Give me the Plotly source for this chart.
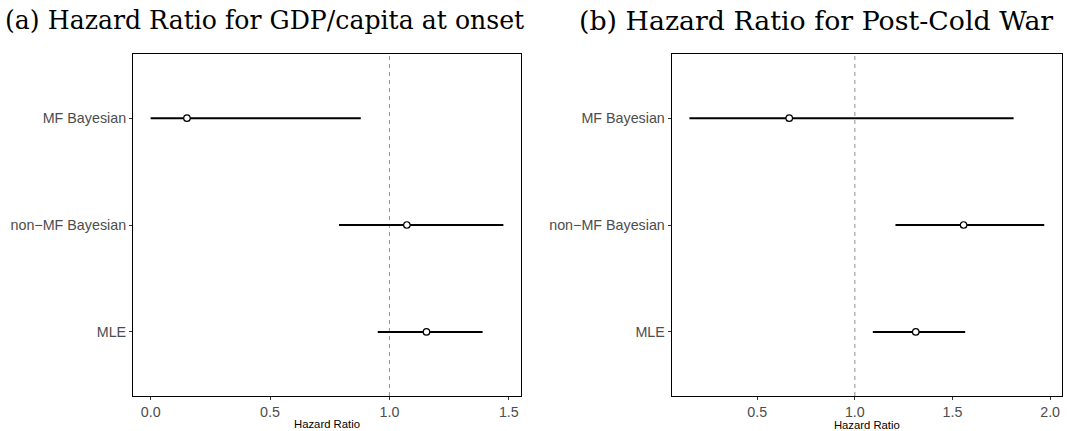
import plotly.graph_objects as go
from plotly.subplots import make_subplots

models = ["MF Bayesian", "non\u2212MF Bayesian", "MLE"]

# Panel (a): GDP/capita at onset
gdp_est = [0.152, 1.073, 1.155]
gdp_lo = [0.0, 0.789, 0.951]
gdp_hi = [0.880, 1.477, 1.390]

# Panel (b): Post-Cold War
pcw_est = [0.664, 1.557, 1.312]
pcw_lo = [0.153, 1.208, 1.092]
pcw_hi = [1.813, 1.970, 1.565]

titles = ["(a) Hazard Ratio for GDP/capita at onset", "(b) Hazard Ratio for Post-Cold War"]
x_ticks_a = [0.0, 0.5, 1.0, 1.5]
x_ticks_b = [0.5, 1.0, 1.5, 2.0]

W, H = 1076, 431
ML, MR, MT, MB = 133, 14, 54, 35
PW = W - ML - MR

fig = make_subplots(rows=1, cols=2)

def add_panel(col, est, lo, hi):
    fig.add_trace(go.Scatter(
        x=est, y=models, mode="markers",
        marker=dict(symbol="circle", size=6.5, color="white",
                    line=dict(color="black", width=1.2)),
        error_x=dict(type="data", symmetric=False,
                     array=[h - e for h, e in zip(hi, est)],
                     arrayminus=[e - l for e, l in zip(est, lo)],
                     width=0, thickness=2, color="black"),
        showlegend=False, hoverinfo="x+y"), row=1, col=col)
    fig.add_vline(x=1.0, line=dict(color="#9a9a9a", width=1.1, dash="4px,4px"),
                  row=1, col=col, layer="below")

add_panel(1, gdp_est, gdp_lo, gdp_hi)
add_panel(2, pcw_est, pcw_lo, pcw_hi)

def rng(lo, hi):
    a, b = min(lo), max(hi)
    pad = 0.05 * (b - a)
    return [a - pad, b + pad]

tick_font = dict(family="Liberation Sans, Arial", size=14.3, color="#4D4D4D")
axis_common = dict(showline=True, mirror=True, linecolor="black", linewidth=1,
                   showgrid=False, zeroline=False, ticks="outside", ticklen=3,
                   tickcolor="#333333", tickwidth=1, tickfont=tick_font,
                   automargin=False)

dom_a = [0, (521 - ML) / PW]
dom_b = [(671.7 - ML) / PW, 1.0]

fig.update_xaxes(**axis_common)
fig.update_yaxes(**axis_common)

xt_font = dict(family="Liberation Sans, Arial", size=11.3, color="black")
fig.update_xaxes(domain=dom_a, range=rng(gdp_lo, gdp_hi), tickvals=x_ticks_a,
                 ticktext=[f"{v:.1f}" for v in x_ticks_a], row=1, col=1,
                 title=dict(text="Hazard Ratio", standoff=0, font=xt_font))
fig.update_xaxes(domain=dom_b, range=rng(pcw_lo, pcw_hi), tickvals=x_ticks_b,
                 ticktext=[f"{v:.1f}" for v in x_ticks_b], row=1, col=2,
                 title=dict(text="Hazard Ratio", standoff=0, font=xt_font))

for c in (1, 2):
    fig.update_yaxes(type="category", categoryorder="array",
                     categoryarray=models[::-1], range=[-0.6, 2.6], row=1, col=c)

title_x = [(3 - ML) / PW, (577 - ML) / PW]
title_sz = [25.2, 26.8]
for t, x, s in zip(titles, title_x, title_sz):
    fig.add_annotation(text=t, x=x, xref="paper", xanchor="left",
                       y=1 + (MT - 20) / (H - MT - MB), yref="paper", yanchor="middle",
                       showarrow=False,
                       font=dict(family="DejaVu Serif, serif", size=s, color="black"))

fig.update_layout(width=W, height=H, margin=dict(l=ML, r=MR, t=MT, b=MB, autoexpand=False),
                  plot_bgcolor="white", paper_bgcolor="white")

fig.write_html("out.html", config={"displayModeBar": False},
               post_script="document.body.style.margin='0';document.body.style.overflow='hidden';")
